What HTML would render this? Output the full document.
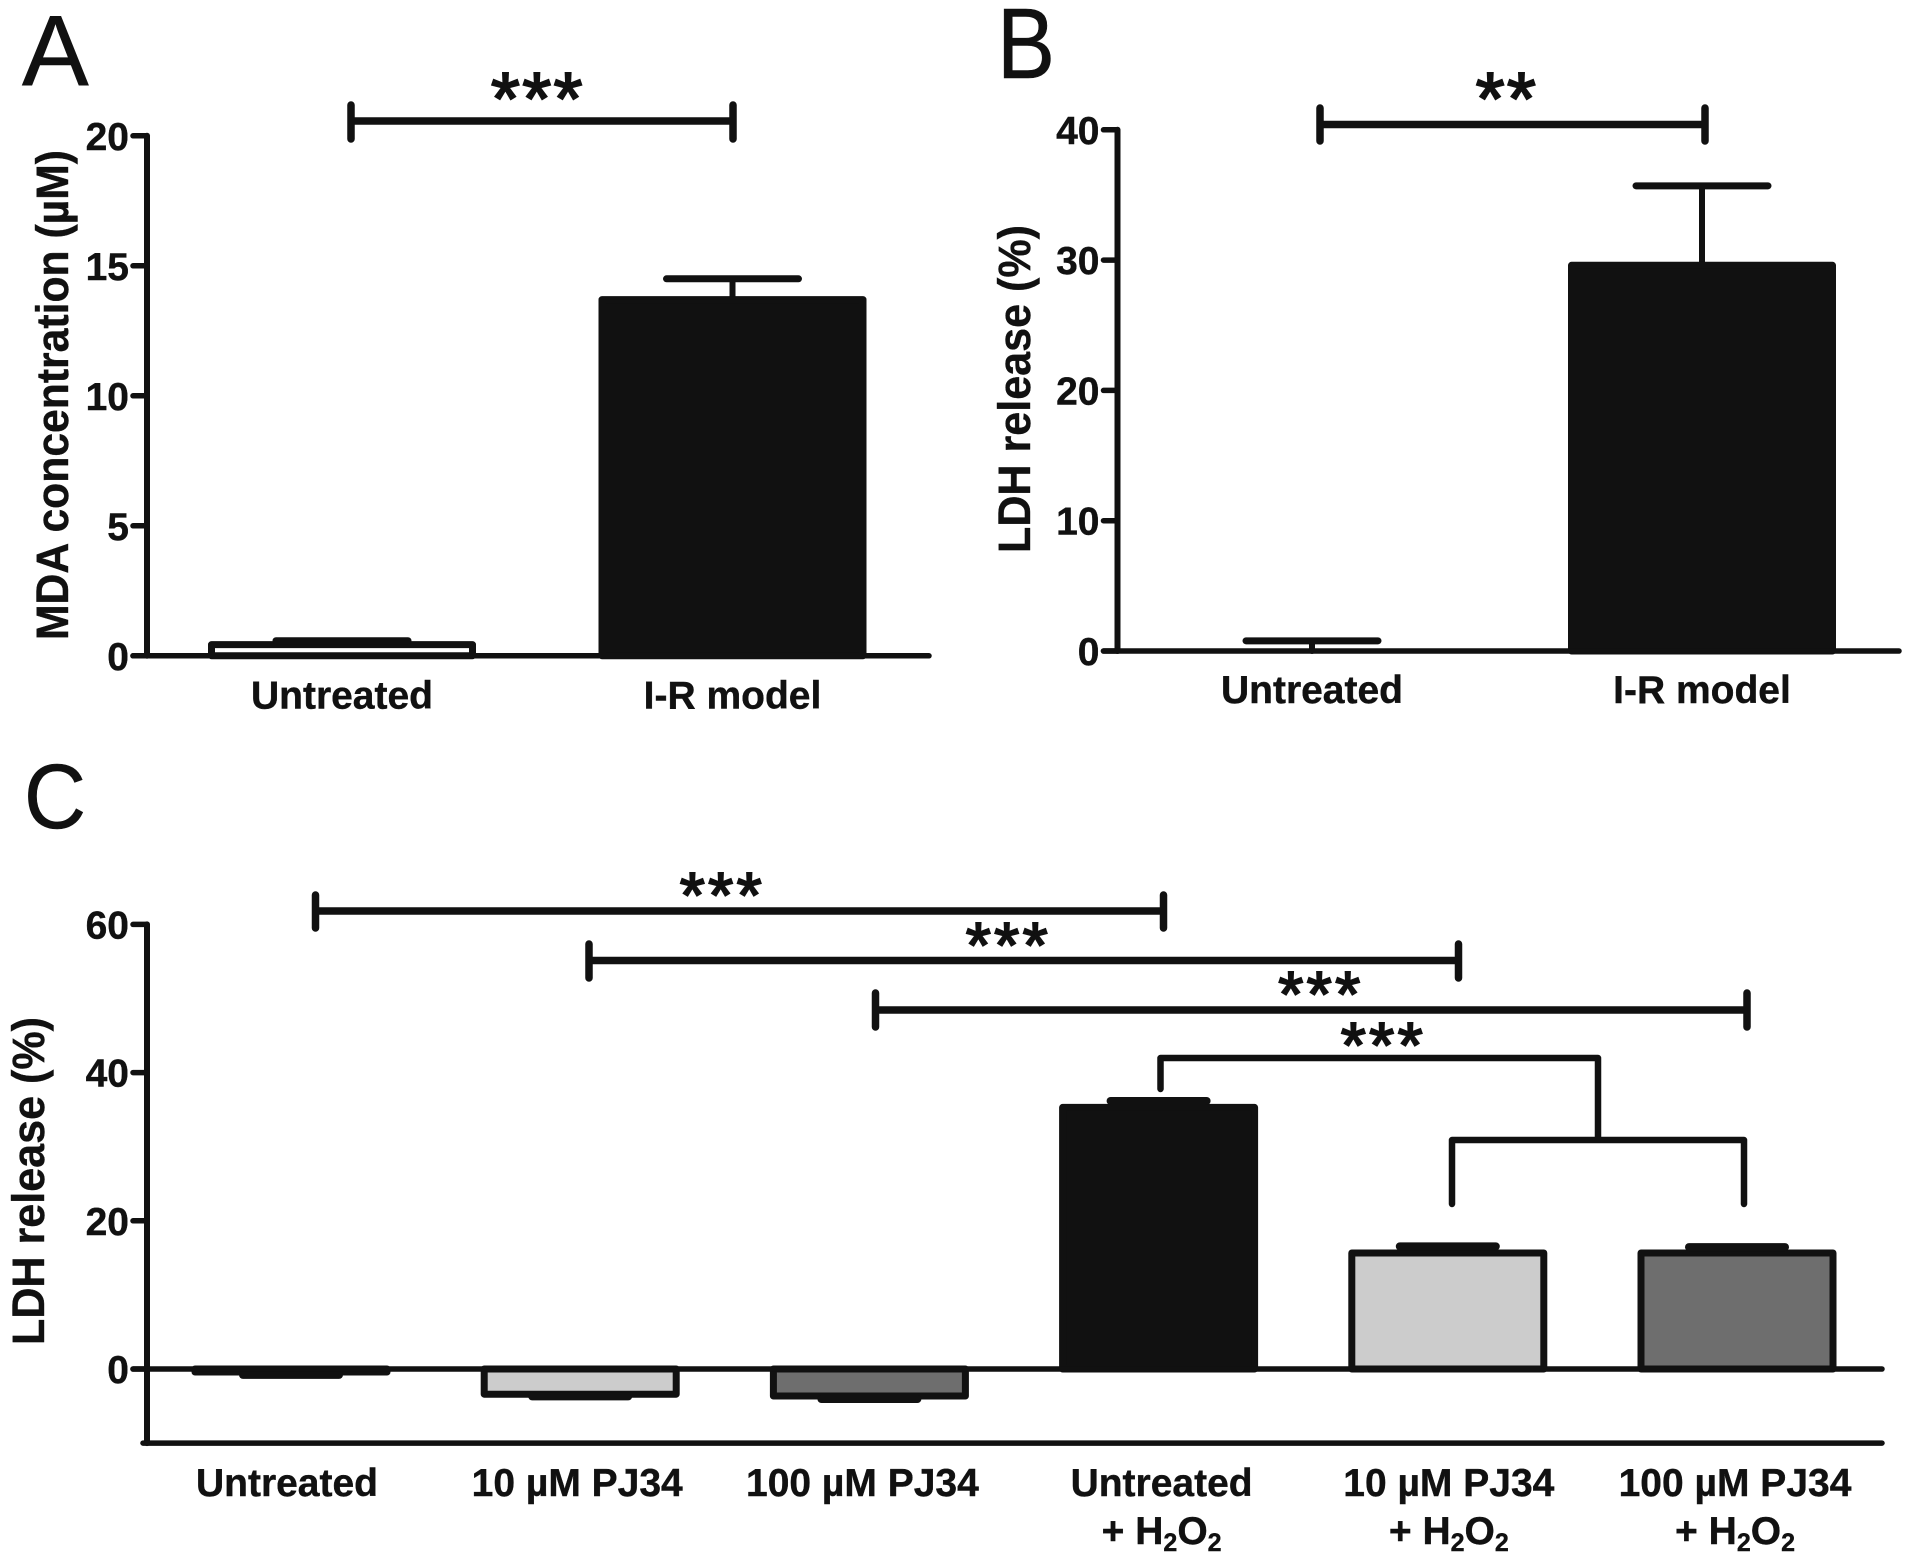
<!DOCTYPE html>
<html lang="en">
<head>
<meta charset="utf-8">
<title>MDA and LDH release bar charts</title>
<style>
html,body{margin:0;padding:0;background:#fff;}
svg{display:block;}
text{font-family:"Liberation Sans",Arial,sans-serif;fill:#111;}
.lbl{font-weight:700;font-size:39px;text-anchor:middle;stroke:#111;stroke-width:.4px;}
.tick{font-weight:700;font-size:39px;text-anchor:end;stroke:#111;stroke-width:.4px;}
.title{font-weight:700;font-size:45px;text-anchor:middle;stroke:#111;stroke-width:.4px;}
.letter{font-size:100px;font-weight:400;stroke:#111;stroke-width:.6px;}
.star{font-weight:400;text-anchor:middle;stroke:#111;stroke-width:2px;}
.br{stroke:#111;stroke-width:7.5;stroke-linecap:round;fill:none;}
.tree{stroke:#111;stroke-width:6.5;stroke-linecap:round;stroke-linejoin:round;fill:none;}
</style>
</head>
<body>
<svg id="figure" xmlns="http://www.w3.org/2000/svg" width="1913" height="1568" viewBox="0 0 1913 1568">
  <rect width="1913" height="1568" fill="#fff"/>

  <text class="letter" x="22" y="85">A</text>
  <text class="letter" x="997" y="78" textLength="58" lengthAdjust="spacingAndGlyphs">B</text>
  <text class="letter" x="24" y="828" font-size="92" style="font-size:92px" textLength="62" lengthAdjust="spacingAndGlyphs">C</text>

  <text class="title" transform="translate(68 395) rotate(-90)" textLength="490" lengthAdjust="spacingAndGlyphs">MDA concentration (µM)</text>
  <text class="title" transform="translate(1030 389) rotate(-90)" textLength="328" lengthAdjust="spacingAndGlyphs">LDH release (%)</text>
  <text class="title" transform="translate(44 1181) rotate(-90)" textLength="328" lengthAdjust="spacingAndGlyphs">LDH release (%)</text>

  <g id="panelA"></g>
  <g id="panelB"></g>
  <g id="panelC"></g>

  <g>
    <path class="br" d="M351 121H733M351 105V139M733 105V139"/>
    <text class="star" x="538" y="124" font-size="74" letter-spacing="2.5">***</text>
  </g>
  <g>
    <path class="br" d="M1320 124.500H1705M1320 108V141M1705 108V141"/>
    <text class="star" x="1507" y="124" font-size="74" letter-spacing="2.5">**</text>
  </g>
  <g>
    <path class="br" d="M315.500 911H1163.500M315.500 895V928M1163.500 895V928"/>
    <path class="br" d="M589 960.500H1458.500M589 944V978M1458.500 944V978"/>
    <path class="br" d="M875.500 1010H1747M875.500 993V1027M1747 993V1027"/>
    <path class="tree" d="M1160.500 1089V1058H1598V1140M1452 1204V1140H1744V1204"/>
    <text class="star" x="722.500" y="917" font-size="64" letter-spacing="3.5">***</text>
    <text class="star" x="1008.500" y="967" font-size="64" letter-spacing="3.5">***</text>
    <text class="star" x="1321" y="1016" font-size="64" letter-spacing="3.5">***</text>
    <text class="star" x="1383.500" y="1067" font-size="64" letter-spacing="3.5">***</text>
  </g>
</svg>
<script>
// Panel A data
const aCategories = ["Untreated", "I-R model"];
const aValues = [0.43, 13.7];
const aErrors = [0.15, 0.8];
const aTicks = [0, 5, 10, 15, 20];
const aTickLabels = ["0", "5", "10", "15", "20"];
const aFills = ["#ffffff", "#111111"];

// Panel B data
const bCategories = ["Untreated", "I-R model"];
const bValues = [0, 29.6];
const bErrors = [0.78, 6.1];
const bTicks = [0, 10, 20, 30, 40];
const bTickLabels = ["0", "10", "20", "30", "40"];
const bFills = ["#ffffff", "#111111"];

// Panel C data
const cCategories = ["Untreated", "10 µM PJ34", "100 µM PJ34", "Untreated", "10 µM PJ34", "100 µM PJ34"];
const cCategoryLine2 = ["", "", "", "+ H2O2", "+ H2O2", "+ H2O2"];
const cValues = [-0.4, -3.4, -3.65, 35.3, 15.65, 15.65];
const cErrors = [0.4, 0.3, 0.4, 0.87, 0.9, 0.8];
const cTicks = [0, 20, 40, 60];
const cTickLabels = ["0", "20", "40", "60"];
const cFills = ["#ffffff", "#cccccc", "#6e6e6e", "#111111", "#cccccc", "#6e6e6e"];

const NS = "http://www.w3.org/2000/svg";
const INK = "#111111";

function line(parent, x1, y1, x2, y2, w) {
  const l = document.createElementNS(NS, "line");
  l.setAttribute("x1", x1);
  l.setAttribute("y1", y1);
  l.setAttribute("x2", x2);
  l.setAttribute("y2", y2);
  l.setAttribute("stroke", INK);
  l.setAttribute("stroke-width", w);
  l.setAttribute("stroke-linecap", "round");
  parent.appendChild(l);
  return l;
}

function drawPanel(cfg) {
  const g = document.getElementById(cfg.id);
  const y = function (v) { return cfg.y0 - v * cfg.pxPerUnit; };
  const x = function (i) { return cfg.x0 + i * cfg.step; };
  const zero = y(0);
  const bottom = y(cfg.domainMin);

  cfg.values.forEach(function (v, i) {
    const cx = x(i);
    const dir = v >= 0 ? 1 : -1;
    const tip = y(v + dir * cfg.errors[i]);

    const stem = line(g, cx, y(v), cx, tip, 6);
    
    

    const bar = document.createElementNS(NS, "rect");
    
    
    bar.setAttribute("x", cx - cfg.barWidth / 2);
    bar.setAttribute("y", Math.min(y(v), zero));
    bar.setAttribute("width", cfg.barWidth);
    bar.setAttribute("height", Math.abs(y(v) - zero));
    bar.setAttribute("fill", cfg.fills[i]);
    bar.setAttribute("stroke", INK);
    bar.setAttribute("stroke-width", 7);
    bar.setAttribute("stroke-linejoin", "round");
    g.appendChild(bar);

    const cap = line(g, cx - cfg.capWidth / 2, tip, cx + cfg.capWidth / 2, tip, cfg.capStroke);
    
    

    const label = document.createElementNS(NS, "text");
    
    
    label.setAttribute("class", "lbl");
    label.setAttribute("x", cx + cfg.labelShift[i]);
    label.setAttribute("y", cfg.labelY);
    label.textContent = cfg.categories[i];
    g.appendChild(label);

    if (cfg.line2 && cfg.line2[i]) {
      const second = document.createElementNS(NS, "text");
      
      
      second.setAttribute("class", "lbl");
      second.setAttribute("x", cx + cfg.labelShift[i]);
      second.setAttribute("y", cfg.labelY + 48);
      cfg.line2[i].split(/(\d)/).forEach(function (part) {
        if (!part) return;
        const span = document.createElementNS(NS, "tspan");
        span.textContent = part;
        if (/\d/.test(part)) {
          span.setAttribute("font-size", "25");
          span.setAttribute("dy", "7");
        } else {
          span.setAttribute("dy", second.childNodes.length ? "-7" : "0");
        }
        second.appendChild(span);
      });
      g.appendChild(second);
    }
  });

  const yAxis = line(g, cfg.axisX, y(cfg.ticks[cfg.ticks.length - 1]), cfg.axisX, bottom, 6);
  
  

  cfg.ticks.forEach(function (t, i) {
    const mark = line(g, cfg.axisX - 14, y(t), cfg.axisX, y(t), 5.5);
    
    

    const tl = document.createElementNS(NS, "text");
    
    
    tl.setAttribute("class", "tick");
    tl.setAttribute("x", cfg.axisX - 18);
    tl.setAttribute("y", y(t) + 14);
    tl.textContent = cfg.tickLabels[i];
    g.appendChild(tl);
  });

  const zeroLine = line(g, cfg.axisX - 14, zero, cfg.right, zero, 5.5);
  
  

  if (cfg.domainMin < 0) {
    const xAxis = line(g, cfg.axisX - 4, bottom, cfg.right, bottom, 5.5);
    
    
  }
}

drawPanel({
  id: "panelA", categories: aCategories, values: aValues, errors: aErrors,
  ticks: aTicks, tickLabels: aTickLabels, fills: aFills,
  axisX: 147, y0: 655.800, pxPerUnit: 26.000, domainMin: 0, right: 929,
  x0: 342, step: 390.500, barWidth: 261, capWidth: 132, capStroke: 7, labelY: 708.500,
  labelShift: [0, 0]
});
drawPanel({
  id: "panelB", categories: bCategories, values: bValues, errors: bErrors,
  ticks: bTicks, tickLabels: bTickLabels, fills: bFills,
  axisX: 1117.500, y0: 651, pxPerUnit: 13.030, domainMin: 0, right: 1899,
  x0: 1312, step: 390, barWidth: 261, capWidth: 132, capStroke: 7, labelY: 703,
  labelShift: [0, 0]
});
drawPanel({
  id: "panelC", categories: cCategories, line2: cCategoryLine2, values: cValues, errors: cErrors,
  ticks: cTicks, tickLabels: cTickLabels, fills: cFills,
  axisX: 147, y0: 1369, pxPerUnit: 7.410, domainMin: -10, right: 1882,
  x0: 291, step: 289.200, barWidth: 192, capWidth: 96, capStroke: 8, labelY: 1496,
  labelShift: [-4, -3, -7, 3, 1, -2]
});
</script>
</body>
</html>
